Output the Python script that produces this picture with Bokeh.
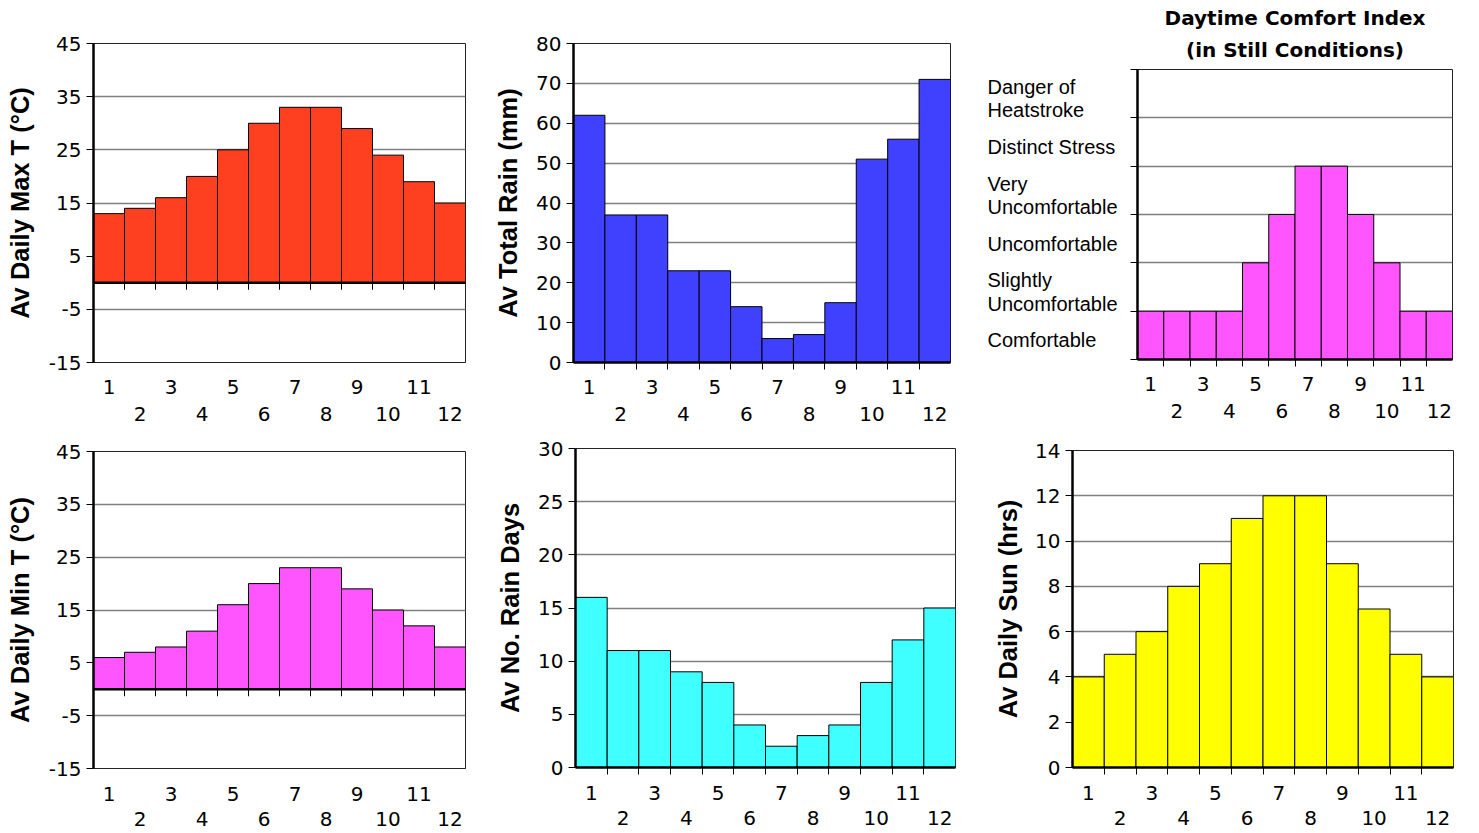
from bokeh.plotting import figure
from bokeh.models import Range1d, FixedTicker, Span, LinearAxis, Title
from bokeh.layouts import row, column
from bokeh.core.properties import value
from bokeh.embed import file_html
from bokeh.resources import INLINE

# ---------------- data ----------------
months = list(range(1, 13))
odd_months = [m for m in months if m % 2 == 1]
even_months = [m for m in months if m % 2 == 0]
max_temp = [13, 14, 16, 20, 25, 30, 33, 33, 29, 24, 19, 15]
min_temp = [6, 7, 8, 11, 16, 20, 23, 23, 19, 15, 12, 8]
rain_mm = [62, 37, 37, 23, 23, 14, 6, 7, 15, 51, 56, 71]
rain_days = [16, 11, 11, 9, 8, 4, 2, 3, 4, 8, 12, 15]
sun_hrs = [4, 5, 6, 8, 9, 11, 12, 12, 9, 7, 5, 4]
comfort_levels = ["Comfortable", "Slightly\nUncomfortable", "Uncomfortable",
                  "Very\nUncomfortable", "Distinct Stress", "Danger of\nHeatstroke"]
comfort_index = [1, 1, 1, 1, 2, 3, 4, 4, 3, 2, 1, 1]
temp_ticks = [-15, -5, 5, 15, 25, 35, 45]
rain_ticks = [0, 10, 20, 30, 40, 50, 60, 70, 80]
days_ticks = [0, 5, 10, 15, 20, 25, 30]
sun_ticks = [0, 2, 4, 6, 8, 10, 12, 14]
comfort_ticks = [0, 1, 2, 3, 4, 5, 6]

FONT = "Liberation Sans"
TICK_FONT = "DejaVu Sans"
TICK_FS = "20px"
boundaries = [m + 0.5 for m in months[:-1]]


def base_fig(W, H, fl, ft, fw, fh, yr, xr=(0.5, 12.5)):
    p = figure(frame_width=fw, frame_height=fh,
               min_border_left=fl, min_border_top=ft,
               min_border_right=W - fl - fw, min_border_bottom=H - ft - fh,
               x_range=Range1d(*xr), y_range=Range1d(*yr),
               output_backend="svg", toolbar_location=None, tools="")
    return p


def panel(values, color, yticks, ylabel, W, H, fl, ft, fw, fh,
          temp=False, ylab_standoff=12, show_yticks=True,
          s_odd=10, s_even=10):
    y0, y1 = yticks[0], yticks[-1]
    p = base_fig(W, H, fl, ft, fw, fh, (y0, y1))
    p.outline_line_color = "#222222"
    p.outline_line_width = 1
    p.xgrid.visible = False
    p.ygrid.ticker = FixedTicker(ticks=yticks)
    p.ygrid.grid_line_color = "#808080"
    p.ygrid.grid_line_width = 1.5

    ya = p.yaxis[0]
    if show_yticks:
        ya.ticker = FixedTicker(ticks=yticks)
        ya.major_label_overrides = {t: str(t) for t in yticks if t < 0}
    else:
        ya.ticker = FixedTicker(ticks=[], minor_ticks=yticks)
    ya.axis_line_width = 2.5
    ya.axis_line_color = "black"
    ya.major_tick_out = 7
    ya.major_tick_in = 0
    ya.minor_tick_out = 0 if show_yticks else 7
    ya.minor_tick_in = 0
    ya.major_tick_line_color = "black"
    ya.minor_tick_line_color = "black"
    ya.major_label_standoff = 5
    ya.major_label_text_font = TICK_FONT
    ya.major_label_text_font_size = TICK_FS
    ya.major_label_text_color = "black"
    if ylabel:
        ya.axis_label = ylabel
        ya.axis_label_text_font = FONT
        ya.axis_label_text_font_size = "25.5px"
        ya.axis_label_text_font_style = "bold"
        ya.axis_label_text_color = "black"
        ya.axis_label_standoff = ylab_standoff

    # odd month labels (and bar-boundary ticks) on the main bottom axis
    xa = p.xaxis[0]
    xa.major_label_text_font = TICK_FONT
    xa.major_label_text_font_size = TICK_FS
    xa.major_label_text_color = "black"
    xa.major_tick_out = 0
    xa.major_tick_in = 0
    xa.minor_tick_in = 0
    if temp:
        xa.ticker = FixedTicker(ticks=odd_months)
        xa.axis_line_width = 1
        xa.axis_line_color = "#222222"
        xa.minor_tick_out = 0
        xa.major_label_standoff = s_odd + 7
    else:
        xa.ticker = FixedTicker(ticks=odd_months, minor_ticks=boundaries)
        xa.axis_line_width = 2.5
        xa.axis_line_color = "black"
        xa.minor_tick_out = 7
        xa.minor_tick_line_color = "black"
        xa.major_label_standoff = s_odd

    # even month labels on a second row
    xb = LinearAxis(ticker=FixedTicker(ticks=even_months),
                    axis_line_color=None, major_tick_out=0, major_tick_in=0,
                    minor_tick_out=0, minor_tick_in=0,
                    major_label_standoff=s_even,
                    major_label_text_font=TICK_FONT, major_label_text_font_size=TICK_FS,
                    major_label_text_color="black")
    p.add_layout(xb, "below")

    p.vbar(x=months, top=values, bottom=0, width=1,
           fill_color=color, line_color="black", line_width=1)

    if temp:
        p.add_layout(Span(location=0, dimension="width",
                          line_color="black", line_width=2.5))
        ppu = fh / (y1 - y0)
        p.segment(x0=boundaries, x1=boundaries, y0=[0] * len(boundaries),
                  y1=[-7 / ppu] * len(boundaries), line_color="black", line_width=1)
    return p


TOP_H = 432
BOT_H = 400

p1 = panel(max_temp, "#FF4020", temp_ticks, "Av Daily Max T (°C)",
           490, TOP_H, 93, 43, 372, 319, temp=True, ylab_standoff=12)
p2 = panel(rain_mm, "#4040FF", rain_ticks, "Av Total Rain (mm)",
           485, TOP_H, 83, 43, 377, 319, ylab_standoff=11)

# comfort panel: text column + chart
pl = base_fig(150, TOP_H, 0, 69, 150, 290, (0, 6), xr=(0, 150))
pl.axis.visible = False
pl.grid.visible = False
pl.outline_line_color = None
pl.text(x=[12] * len(comfort_levels), y=[i + 0.5 for i in range(len(comfort_levels))],
        text=comfort_levels, y_offset=5,
        text_font=value(FONT), text_font_size=value("20px"),
        text_align="left", text_baseline="middle", text_color="black",
        text_line_height=1.05)

p3 = panel(comfort_index, "#FF55FF", comfort_ticks, None,
           350, TOP_H, 12, 69, 315, 290, show_yticks=False)
p3.add_layout(Title(text="(in Still Conditions)", align="center",
                    text_font=TICK_FONT, text_font_size="20px", text_font_style="bold",
                    text_color="black", standoff=16), "above")
p3.add_layout(Title(text="Daytime Comfort Index", align="center",
                    text_font=TICK_FONT, text_font_size="20px", text_font_style="bold",
                    text_color="black", standoff=-4), "above")

p4 = panel(min_temp, "#FF55FF", temp_ticks, "Av Daily Min T (°C)",
           490, BOT_H, 93, 19, 372, 317, temp=True, ylab_standoff=12,
           s_odd=11, s_even=8)
p5 = panel(rain_days, "#40FFFF", days_ticks, "Av No. Rain Days",
           485, BOT_H, 85, 16, 380, 319, ylab_standoff=11, s_odd=11, s_even=8)
p6 = panel(sun_hrs, "#FFFF00", sun_ticks, "Av Daily Sun (hrs)",
           500, BOT_H, 97, 18, 381, 317, ylab_standoff=10, s_odd=11, s_even=8)

top = row(column(p1), column(p2), row(pl, p3))
bottom = row(column(p4), column(p5), column(p6))
layout = column(top, bottom)

open("out.html", "w").write(file_html(layout, INLINE))
